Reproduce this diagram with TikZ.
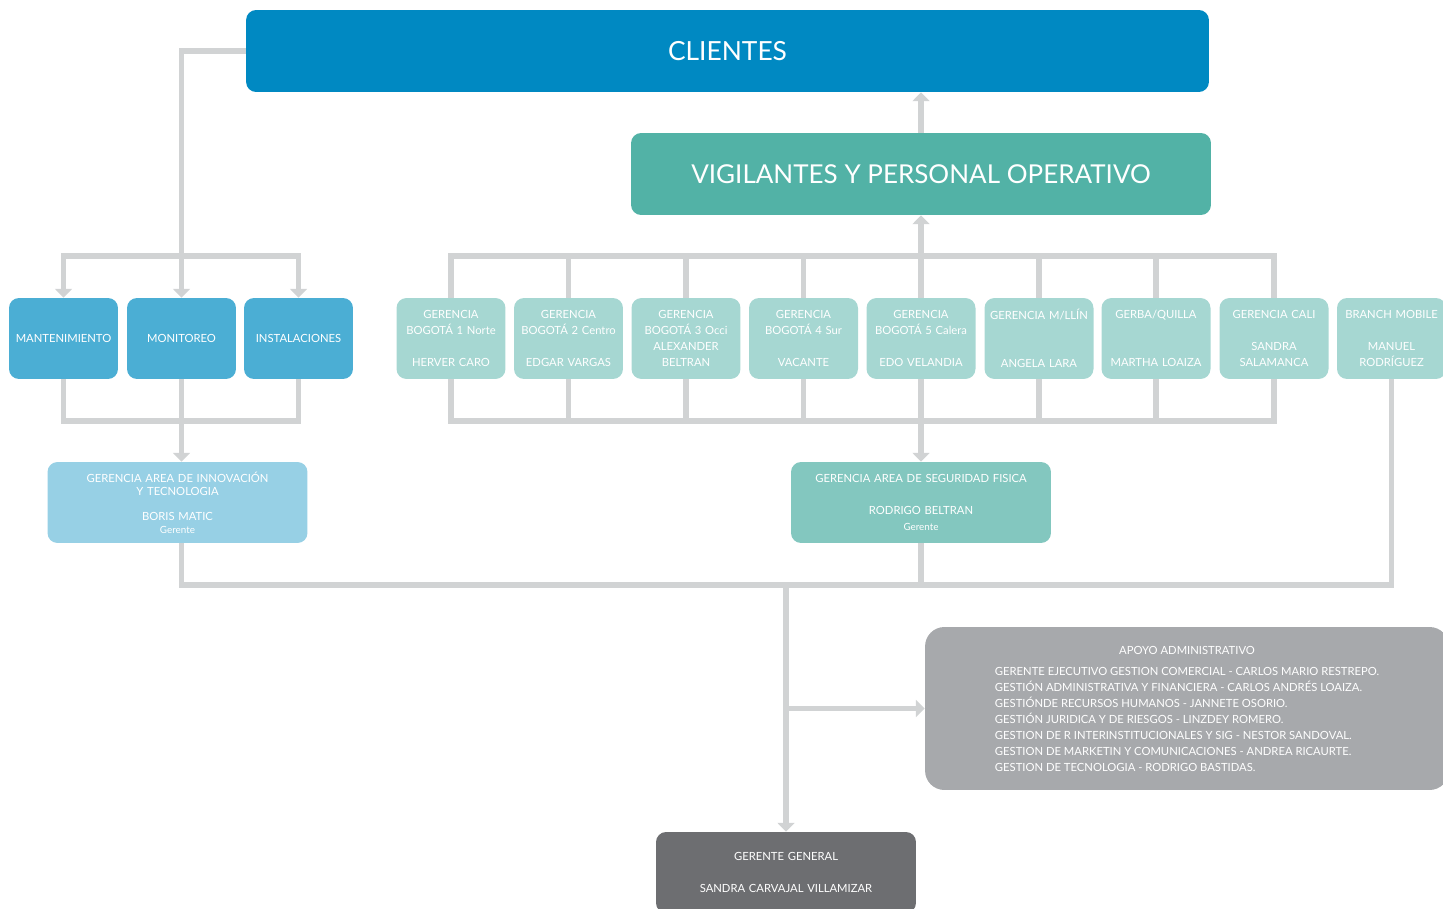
\documentclass[tikz,border=0pt]{standalone}
\usepackage{fontspec}
\setmainfont{Lato}
\usetikzlibrary{arrows.meta, positioning, calc}

\definecolor{clientblue}{RGB}{0,137,194}
\definecolor{vigteal}{RGB}{82,178,166}
\definecolor{areablue}{RGB}{75,174,212}
\definecolor{gerteal}{RGB}{166,215,210}
\definecolor{innblue}{RGB}{151,208,229}
\definecolor{segteal}{RGB}{131,199,191}
\definecolor{apogray}{RGB}{167,169,172}
\definecolor{gengray}{RGB}{109,110,113}
\definecolor{linegray}{RGB}{209,211,212}

\newcommand{\smalltxt}{\fontsize{6.4}{9.07}\selectfont}
\newcommand{\tinytxt}{\fontsize{5.6}{7.4}\selectfont}

\begin{document}
\begin{tikzpicture}[x=0.02cm, y=-0.02cm,
    box/.style={rounded corners=5.7pt, text=white, align=center, inner sep=0pt},
    bigbox/.style={box, minimum height=1.64cm, font=\fontsize{15}{18}\selectfont},
    unitbox/.style={box, fill=areablue, minimum width=2.18cm, minimum height=1.62cm, font=\smalltxt},
    gerbox/.style={box, fill=gerteal, minimum width=2.18cm, minimum height=1.62cm, text width=2.18cm, font=\smalltxt},
    areabox/.style={box, minimum width=5.2cm, minimum height=1.62cm, text width=5.2cm, font=\smalltxt},
    link/.style={draw=linegray, line width=3pt},
    arr/.style={link, -{Triangle[width=9.5pt, length=5pt]}}]

    % Frame
    \useasboundingbox (0,0) rectangle (1443,909);

    % Top boxes
    \node[bigbox, fill=clientblue, minimum width=19.26cm] (cli) at (727.5,51) {CLIENTES};
    \node[bigbox, fill=vigteal, minimum width=11.6cm, font=\fontsize{14.8}{18}\selectfont] (vig) at (921,174) {VIGILANTES Y PERSONAL OPERATIVO};

    % Areas
    \node[unitbox] (man) at (63.5,338.5) {MANTENIMIENTO};
    \node[unitbox] (mon) at (181.5,338.5) {MONITOREO};
    \node[unitbox] (ins) at (298.5,338.5) {INSTALACIONES};

    % Gerencias
    \node[gerbox] (g1) at (451,338.5) {GERENCIA\\BOGOTÁ 1 Norte\\~\\HERVER CARO};
    \node[gerbox] (g2) at (568.5,338.5) {GERENCIA\\BOGOTÁ 2 Centro\\~\\EDGAR VARGAS};
    \node[gerbox] (g3) at (686,338.5) {GERENCIA\\BOGOTÁ 3 Occi\\ALEXANDER\\BELTRAN};
    \node[gerbox] (g4) at (803.5,338.5) {GERENCIA\\BOGOTÁ 4 Sur\\~\\VACANTE};
    \node[gerbox] (g5) at (921,338.5) {GERENCIA\\BOGOTÁ 5 Calera\\~\\EDO VELANDIA};
    \node[gerbox] (g6) at (1039,338.5) {GERENCIA M/LLÍN\\~\\~\\ANGELA LARA};
    \node[gerbox] (g7) at (1156,338.5) {GERBA/QUILLA\\~\\~\\MARTHA LOAIZA};
    \node[gerbox] (g8) at (1274,338.5) {GERENCIA CALI\\~\\SANDRA\\SALAMANCA};
    \node[gerbox] (g9) at (1391.5,338.5) {BRANCH MOBILE\\~\\MANUEL\\RODRÍGUEZ};

    % Gerencias de area
    \node[areabox, fill=innblue, font=\fontsize{6.4}{7.4}\selectfont] (inn) at (177.5,502.5)
        {GERENCIA AREA DE INNOVACIÓN\\Y TECNOLOGIA\\[7pt]BORIS MATIC\\{\tinytxt Gerente}};
    \node[areabox, fill=segteal] (seg) at (921,502.5)
        {GERENCIA AREA DE SEGURIDAD FISICA\\[9.07pt]RODRIGO BELTRAN\\[-0.4pt]{\tinytxt Gerente}};

    % Apoyo y gerencia general
    \node[box, fill=apogray, rounded corners=11pt, minimum width=10.48cm, minimum height=3.26cm, font=\smalltxt] (apo) at (1187,708.5)
        {\rule{0pt}{8pt}APOYO ADMINISTRATIVO\\[2.8pt]
         \begin{tabular}[t]{@{}l@{}}
         GERENTE EJECUTIVO GESTION COMERCIAL - CARLOS MARIO RESTREPO.\\
         GESTIÓN ADMINISTRATIVA Y FINANCIERA - CARLOS ANDRÉS LOAIZA.\\
         GESTIÓNDE RECURSOS HUMANOS - JANNETE OSORIO.\\
         GESTIÓN JURIDICA Y DE RIESGOS - LINZDEY ROMERO.\\
         GESTION DE R INTERINSTITUCIONALES Y SIG - NESTOR SANDOVAL.\\
         GESTION DE MARKETIN Y COMUNICACIONES - ANDREA RICAURTE.\\
         GESTION DE TECNOLOGIA - RODRIGO BASTIDAS.
         \end{tabular}};
    \node[areabox, fill=gengray] (gg) at (786,872.5) {GERENTE GENERAL\\[9.07pt]SANDRA CARVAJAL VILLAMIZAR};

    % Junctions
    \coordinate (lbus) at (181.5,256);
    \coordinate (lbot) at (181.5,421);
    \coordinate (gtop) at (921,256);
    \coordinate (gbot) at (921,421);
    \coordinate (bb) at (786,585);

    % Left branch
    \draw[arr] (cli.west) -| (mon.north);
    \draw[arr] (lbus) -| (man.north);
    \draw[arr] (lbus) -| (ins.north);
    \draw[link] (man.south) |- (lbot) -| (ins.south);
    \draw[arr] (mon.south) -- (mon.south |- inn.north);

    % Right branch
    \draw[arr] (vig.north) -- (vig.north |- cli.south);
    \draw[arr] (g5.north) -- (vig.south);
    \draw[link] (g1.north) |- (gtop) -| (g8.north);
    \draw[link] (g1.south) |- (gbot) -| (g8.south);
    \foreach \i in {2,3,4,6,7} {
        \draw[link] (g\i.north) -- (g\i.north |- gtop);
        \draw[link] (g\i.south) -- (g\i.south |- gbot);
    }
    \draw[arr] (g5.south) -- (seg.north);

    % Bottom bus
    \draw[link] (mon.south |- inn.south) |- (bb) -| (g9.south);
    \draw[link] (seg.south) -- (seg.south |- bb);
    \draw[arr] (bb) -- (gg.north);
    \draw[arr] (bb |- apo.west) -- (apo.west);
\end{tikzpicture}
\end{document}
